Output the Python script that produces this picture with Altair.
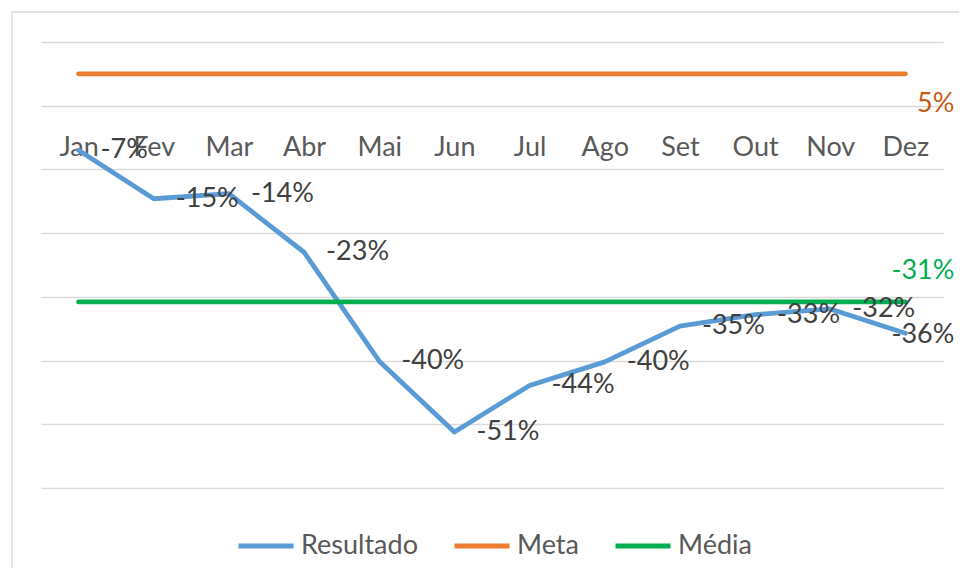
import altair as alt
import pandas as pd

months = ["Jan", "Fev", "Mar", "Abr", "Mai", "Jun", "Jul", "Ago", "Set", "Out", "Nov", "Dez"]
resultado = [-7.0, -14.6, -13.8, -23.0, -40.1, -51.2, -43.9, -40.2, -34.6, -32.8, -31.9, -35.7]
meta = 5.0
media = -30.8
series = ["Resultado", "Meta", "Média"]
colors = ["#5B9BD5", "#ED7D31", "#00B050"]
grid_values = [-60, -50, -40, -30, -20, -10, 0, 10]

rows = []
for m, v in zip(months, resultado):
    rows.append({"mes": m, "serie": "Resultado", "valor": v, "rotulo": f"{round(v)}%"})
for m in months:
    rows.append({"mes": m, "serie": "Meta", "valor": meta, "rotulo": f"{round(meta)}%"})
for m in months:
    rows.append({"mes": m, "serie": "Média", "valor": media, "rotulo": f"{round(media)}%"})
df = pd.DataFrame(rows)

FONT = "Lato"

x = alt.X(
    "mes:N",
    sort=months,
    scale=alt.Scale(type="point", padding=0.5),
    axis=alt.Axis(
        title=None, orient="bottom", offset=-383, domain=False, ticks=False,
        labelPadding=42, labelBaseline="middle", labelFont=FONT, labelFontSize=27,
        labelColor="#595959", labelAngle=0, grid=False,
    ),
)
y = alt.Y(
    "valor:Q",
    scale=alt.Scale(domain=[-60, 10], nice=False, zero=False),
    axis=alt.Axis(
        title=None, values=grid_values, labels=False, domain=False, ticks=False,
        grid=True, gridColor="#D9D9D9", gridWidth=1.3,
    ),
)
color = alt.Color(
    "serie:N",
    scale=alt.Scale(domain=series, range=colors),
    legend=alt.Legend(
        title=None, orient="none", legendX=195, legendY=474, direction="horizontal",
        symbolType="stroke", symbolStrokeWidth=5, symbolSize=3025,
        labelFont=FONT, labelFontSize=27, labelColor="#595959", labelOffset=5,
        columnPadding=26, padding=0, labelLimit=0,
    ),
)

base = alt.Chart(df)

lines = base.mark_line(strokeWidth=4.8, strokeCap="round", strokeJoin="round").encode(
    x=x, y=y, color=color
)

labels = base.transform_filter(
    (alt.datum.serie == "Resultado") & (alt.datum.mes != "Dez")
).mark_text(
    align="left", baseline="middle", dx=22, font=FONT, fontSize=27, color="#404040"
).encode(x=x, y=y, text="rotulo:N")

last_label = base.transform_filter(
    (alt.datum.serie == "Resultado") & (alt.datum.mes == "Dez")
).mark_text(
    align="right", baseline="middle", dx=49, dy=2, font=FONT, fontSize=27, color="#404040"
).encode(x=x, y=y, text="rotulo:N")

meta_label = base.transform_filter(
    (alt.datum.serie == "Meta") & (alt.datum.mes == "Dez")
).mark_text(
    align="right", baseline="middle", dx=49, dy=30, font=FONT, fontSize=27, color="#C55A11"
).encode(x=x, y=y, text="rotulo:N")

media_label = base.transform_filter(
    (alt.datum.serie == "Média") & (alt.datum.mes == "Dez")
).mark_text(
    align="right", baseline="middle", dx=49, dy=-31, font=FONT, fontSize=27, color="#00B050"
).encode(x=x, y=y, text="rotulo:N")

frame_df = pd.DataFrame({"k": [0]})
frame_left = alt.Chart(frame_df).mark_rule(color="#D9D9D9", strokeWidth=1.3).encode(
    x=alt.value(-29), y=alt.value(-30), y2=alt.value(530)
)
frame_top = alt.Chart(frame_df).mark_rule(color="#D9D9D9", strokeWidth=1.3).encode(
    x=alt.value(-29), x2=alt.value(930), y=alt.value(-30)
)

chart = alt.layer(
    frame_left, frame_top, lines, labels, last_label, meta_label, media_label
).properties(
    width=902,
    height=446,
    padding={"left": 33, "top": 34, "right": 16, "bottom": 80},
    autosize=alt.AutoSizeParams(type="none"),
    background="white",
).configure_view(stroke=None)

chart.save("out.html", embed_options={"renderer": "svg", "actions": False})
